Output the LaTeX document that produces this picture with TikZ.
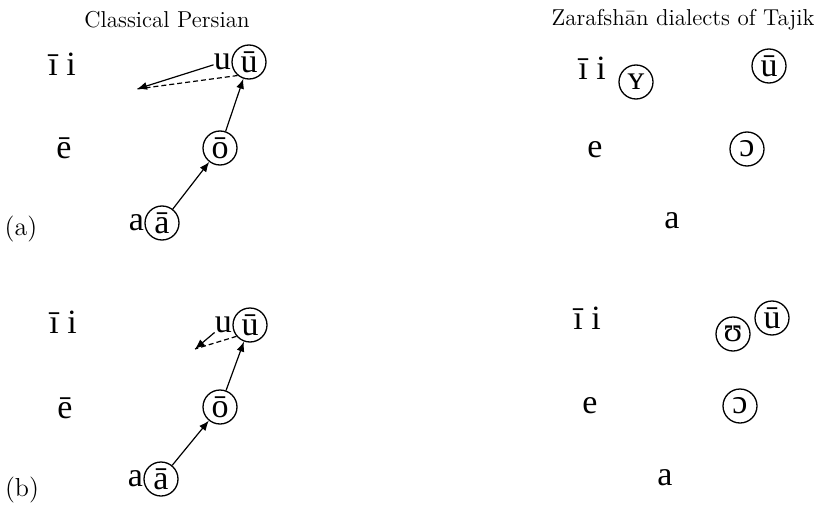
\documentclass[tikz,border=0pt]{standalone}
\usepackage{fontspec}
\setmainfont{Liberation Serif}
\newfontfamily\headfont{Latin Modern Roman}
\usetikzlibrary{arrows.meta, calc}

\tikzset{
  vowel/.style={font=\fontsize{17}{17}\selectfont, inner sep=0pt},
  ringed/.style={vowel, draw, circle, minimum size=17pt, line width=0.65pt},
  panel/.style={font=\headfont\fontsize{13}{14}\selectfont, inner sep=0pt},
  heading/.style={font=\headfont\fontsize{11.5}{12}\selectfont, inner sep=0pt},
  chainshift/.style={->, line width=0.6pt},
  backshift/.style={line width=0.6pt, dash pattern=on 2.5pt off 1.5pt},
}

\begin{document}
\begin{tikzpicture}[x=0.5pt, y=-0.5pt, >={Latex[length=5pt, width=4pt]}]
  \useasboundingbox (0,0) rectangle (824,508);
  % headings
  \node[heading] (titleL) at (167,20) {Classical Persian};
  \node[heading] (titleR) at (683,20) {Zarafshān dialects of Tajik};

  % Classical Persian, (a)
  \node[vowel] (iA) at (62,64) {ī i};
  \node[vowel] (eA) at (64,148) {ē};
  \node[ringed] (ubarA) at (249,62) {ū};
  \node[vowel, anchor=east] (uA) at (ubarA.west) {u};
  \node[ringed] (obarA) at (220,148) {ō};
  \node[ringed] (abarA) at (162,223) {ā};
  \node[vowel, anchor=east] (aA) at (abarA.west) {a};
  \coordinate (backA) at (137,89);
  \node[panel] (labA) at (21,229) {(a)};
  \draw[chainshift] (abarA) -- (obarA);
  \draw[chainshift] (obarA) -- (ubarA);
  \draw[chainshift] (uA) -- (backA);
  \draw[backshift] (ubarA.230) -- (backA);

  % Classical Persian, (b)
  \node[vowel] (iB) at (63,322) {ī i};
  \node[vowel] (eB) at (65,408) {ē};
  \node[ringed] (ubarB) at (250,325) {ū};
  \node[vowel, anchor=east] (uB) at (ubarB.west) {u};
  \node[ringed] (obarB) at (220,407) {ō};
  \node[ringed] (abarB) at (161,479) {ā};
  \node[vowel, anchor=east] (aB) at (abarB.west) {a};
  \coordinate (backB) at (195,349);
  \node[panel] (labB) at (22,490) {(b)};
  \draw[chainshift] (abarB) -- (obarB);
  \draw[chainshift] (obarB) -- (ubarB);
  \draw[chainshift] (uB) -- (backB);
  \draw[backshift] (ubarB.220) -- (backB);

  % Tajik, (a)
  \node[vowel] (iC) at (592,68) {ī i};
  \node[ringed] (yC) at (636,82) {ʏ};
  \node[ringed] (ubarC) at (769,66) {ū};
  \node[vowel] (eC) at (595,150) {e};
  \node[ringed] (openoC) at (747,149) {ɔ};
  \node[vowel] (aC) at (672,221) {a};

  % Tajik, (b)
  \node[vowel] (iD) at (587,318) {ī i};
  \node[ringed] (upsD) at (733,334) {ʊ};
  \node[ringed] (ubarD) at (772,318) {ū};
  \node[vowel] (eD) at (590,406) {e};
  \node[ringed] (openoD) at (740,406) {ɔ};
  \node[vowel] (aD) at (665,478) {a};
\end{tikzpicture}
\end{document}
